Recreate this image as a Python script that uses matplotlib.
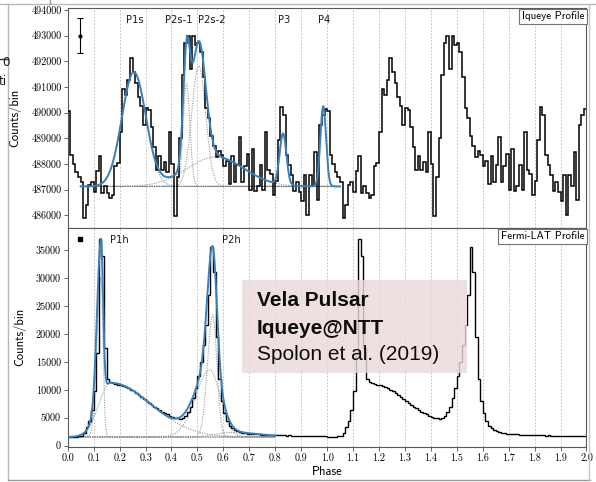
import numpy as np
import matplotlib
matplotlib.use("Agg")
import matplotlib.pyplot as plt
from matplotlib.lines import Line2D
from matplotlib.patches import Rectangle

# ---------------- data ----------------
bin_width = 0.01          # phase bin width of the profiles
n_cycles = 2              # profile shown twice (phase 0-2)

iqueye_counts = [
    490050, 488350, 488000, 487700, 487500, 487300, 485900, 486400, 487180, 487300,
    486920, 487740, 488290, 486860, 487140, 486860, 486660, 486790, 487900, 488030,
    489260, 490910, 490690, 491270, 492120, 491600, 491170, 490620, 490240, 489520,
    490170, 490100, 489450, 488670, 487760, 488290, 487760, 488090, 487700, 489260,
    488000, 485950, 487500, 489000, 491450, 492700, 492970, 491700, 492970, 492650,
    492700, 492350, 491400, 490170, 489800, 489100, 488700, 488250, 488500, 488350,
    487900, 488100, 487200, 488300, 487300, 487950, 489050, 487300, 487900, 488400,
    487000, 488600, 486950, 487150, 487950, 487000, 489250, 487750, 487600, 486800,
    487350, 488950, 490200, 489900, 488350, 487950, 487550, 486950, 487300, 486900,
    486550, 487550, 486000, 487550, 487150, 488450, 486600, 489500, 489900, 490150,
]

fermi_counts = [
    1600, 1580, 1620, 1600, 1650, 1750, 2300, 3300, 4500, 6300,
    9800, 16500, 37000, 34000, 17500, 12000, 11300, 11200, 11100, 10900,
    10800, 10600, 10450, 10250, 10000, 9700, 9400, 9050, 8700, 8350,
    7950, 7600, 7250, 6950, 6650, 6350, 6100, 5850, 5600, 5350,
    5150, 5000, 4900, 4850, 4950, 5300, 6000, 7000, 8500, 10300,
    12500, 15000, 18000, 21500, 27000, 35500, 31000, 19500, 12000, 8000,
    5800, 4400, 3600, 3100, 2800, 2550, 2400, 2300, 2200, 2150,
    2100, 2050, 2000, 2000, 1950, 1950, 1900, 1900, 1880, 1880,
    1850, 1850, 1830, 1830, 1800, 1820, 1800, 1790, 1780, 1780,
    1770, 1760, 1760, 1750, 1740, 1740, 1730, 1720, 1700, 1680,
]

# multi-gaussian fit (Iqueye)
iq_baseline = 487120
iq_comp_center = [0.255, 0.458, 0.505, 0.57, 0.83, 0.985]
iq_comp_sigma = [0.046, 0.013, 0.027, 0.11, 0.013, 0.011]
iq_comp_amp = [4440, 4000, 4700, 1150, 2000, 3130]
iq_fit_range = [0.05, 1.05]

# fit (Fermi-LAT), asymmetric gaussians
fermi_baseline = 1550
fermi_comp_center = [0.128, 0.165, 0.548, 0.559, 0.62]
fermi_comp_sig_left = [0.015, 0.045, 0.055, 0.020, 0.05]
fermi_comp_sig_right = [0.008, 0.155, 0.040, 0.016, 0.12]
fermi_comp_amp = [28550, 9700, 12000, 21800, 800]
fermi_fit_range = [0.0, 0.8]

iq_peak_labels = ["P1s", "P2s-1", "P2s-2", "P3", "P4"]
iq_peak_label_x = [0.26, 0.43, 0.557, 0.835, 0.99]
iq_peak_label_y = 493630
fermi_peak_labels = ["P1h", "P2h"]
fermi_peak_label_x = [0.163, 0.593]
fermi_peak_label_y = 36800

iq_err_point = [0.048, 493000, 690]
fermi_err_point = [0.048, 37000, 200]

x_ticks = [round(0.1 * i, 1) for i in range(21)]
x_tick_labels = [f"{t:.1f}" for t in x_ticks]
iq_yticks = [486000, 487000, 488000, 489000, 490000, 491000, 492000, 493000, 494000]
fermi_yticks = [0, 5000, 10000, 15000, 20000, 25000, 30000, 35000]

box_lines = ["Vela Pulsar", "Iqueye@NTT", "Spolon et al. (2019)"]

# ---------------- helpers ----------------
def agauss(x, c, sl, sr, a):
    s = np.where(x < c, sl, sr)
    return a * np.exp(-0.5 * ((x - c) / s) ** 2)

W, H = 596, 482
def fx(px):
    return px / W
def fy(py):
    return 1 - py / H

BLUE = "#3a80bc"
TICKFONT = "cmr10"
LABFONT = "cmss10"
plt.rcParams["axes.formatter.use_mathtext"] = True

fig = plt.figure(figsize=(W / 100, H / 100), dpi=100)
fig.patch.set_facecolor("white")

# screenshot frame remnants
for (x0, y0, x1, y1, c) in [(0, 3.5, 596, 3.5, "0.72"), (8, 3.5, 8, 480, "0.72"),
                            (8, 480, 590, 480, "0.6"), (589, 3.5, 589, 480, "0.78"),
                            (0, 59, 8, 59, "0.2"), (50, 0, 50, 3.5, "0.6")]:
    fig.add_artist(Line2D([fx(x0), fx(x1)], [fy(y0), fy(y1)], color=c, lw=1.0))
fig.text(fx(9.5), fy(63), "0", ha="right", va="center", fontsize=8.5, color="0.1")
fig.text(fx(7), fy(81), "ti", ha="right", va="center", fontsize=8.5, color="0.1")

left = fx(67.7)
width = (586.5 - 67.7) / W
ax1 = fig.add_axes([left, (H - 228) / H, width, 220 / H])
ax2 = fig.add_axes([left, (H - 446.5) / H, width, 218.5 / H])

edges = np.arange(len(iqueye_counts) * n_cycles + 1) * bin_width

# ---- top panel: Iqueye ----
iq_vals = np.tile(np.array(iqueye_counts, float), n_cycles)
ax1.stairs(iq_vals, edges, baseline=None, color="k", lw=1.1, zorder=3)
xf = np.linspace(iq_fit_range[0], iq_fit_range[1], 1200)
tot = np.full_like(xf, iq_baseline, dtype=float)
for c, s, a in zip(iq_comp_center, iq_comp_sigma, iq_comp_amp):
    comp = agauss(xf, c, s, s, a)
    tot += comp
    ax1.plot(xf, iq_baseline + comp, color="0.6", ls=(0, (1, 1.2)), lw=0.8, zorder=2)
ax1.plot(xf, np.full_like(xf, iq_baseline), color="0.45", ls=(0, (1, 1)), lw=0.8, zorder=2)
ax1.plot(xf, tot, color=BLUE, lw=1.4, zorder=4)
ax1.errorbar([iq_err_point[0]], [iq_err_point[1]], yerr=[iq_err_point[2]], fmt="o",
             ms=2, color="k", ecolor="k", elinewidth=0.8, capsize=2, capthick=0.8, zorder=5)
for lab, x in zip(iq_peak_labels, iq_peak_label_x):
    ax1.text(x, iq_peak_label_y, lab, ha="center", va="center", fontsize=7.2,
             family="DejaVu Sans", color="0.1")
ax1.text(0.996, 0.985, "Iqueye Profile", transform=ax1.transAxes, ha="right", va="top",
         fontsize=7.9, family=LABFONT,
         bbox=dict(boxstyle="square,pad=0.25", fc="white", ec="0.45", lw=0.8), zorder=6)
ax1.set_xlim(0, 2)
ax1.set_ylim(485500, 494080)
ax1.set_xticks(x_ticks)
ax1.set_yticks(iq_yticks)
ax1.set_yticklabels([str(v) for v in iq_yticks], family=TICKFONT, fontsize=7.3)
ax1.tick_params(axis="x", labelbottom=False, length=0)
ax1.tick_params(axis="y", direction="out", length=3, width=0.6, pad=1.5, color="0.3")
ax1.grid(axis="x", color="0.72", ls=(0, (2, 2)), lw=0.6)
ax1.set_ylabel("Counts/bin", family=LABFONT, fontsize=9)
ax1.yaxis.set_label_coords(-0.09, 0.5)

# ---- bottom panel: Fermi-LAT ----
fe_vals = np.tile(np.array(fermi_counts, float), n_cycles)
ax2.stairs(fe_vals, edges, baseline=None, color="k", lw=1.0, zorder=3)
xf2 = np.linspace(fermi_fit_range[0], fermi_fit_range[1], 1500)
tot2 = np.full_like(xf2, fermi_baseline, dtype=float)
for c, sl, sr, a in zip(fermi_comp_center, fermi_comp_sig_left, fermi_comp_sig_right, fermi_comp_amp):
    comp = agauss(xf2, c, sl, sr, a)
    tot2 += comp
    ax2.plot(xf2, fermi_baseline + comp, color="0.6", ls=(0, (1, 1.2)), lw=0.8, zorder=2)
ax2.plot(xf2, np.full_like(xf2, fermi_baseline), color="0.45", ls=(0, (1, 1)), lw=0.8, zorder=2)
ax2.plot(xf2, tot2, color=BLUE, lw=1.4, zorder=4)
ax2.errorbar([fermi_err_point[0]], [fermi_err_point[1]], yerr=[fermi_err_point[2]], fmt="s",
             ms=2.5, color="k", ecolor="k", elinewidth=0.8, capsize=1, zorder=5)
for lab, x in zip(fermi_peak_labels, fermi_peak_label_x):
    ax2.text(x, fermi_peak_label_y, lab, ha="left", va="center", fontsize=7.2,
             family="DejaVu Sans", color="0.1")
ax2.text(0.996, 0.985, "Fermi-LAT Profile", transform=ax2.transAxes, ha="right", va="top",
         fontsize=7.9, family=LABFONT,
         bbox=dict(boxstyle="square,pad=0.25", fc="white", ec="0.45", lw=0.8), zorder=6)
ax2.set_xlim(0, 2)
ax2.set_ylim(-150, 38930)
ax2.set_xticks(x_ticks)
ax2.set_xticklabels(x_tick_labels, family=TICKFONT, fontsize=7.3)
ax2.set_yticks(fermi_yticks)
ax2.set_yticklabels([str(v) for v in fermi_yticks], family=TICKFONT, fontsize=7.3)
ax2.tick_params(axis="both", direction="out", length=3, width=0.6, pad=2, color="0.3")
ax2.grid(axis="x", color="0.72", ls=(0, (2, 2)), lw=0.6)
ax2.set_ylabel("Counts/bin", family=LABFONT, fontsize=9)
ax2.yaxis.set_label_coords(-0.08, 0.5)
ax2.set_xlabel("Phase", family=LABFONT, fontsize=9, labelpad=2)

for ax in (ax1, ax2):
    for sp in ax.spines.values():
        sp.set_color("0.35")
        sp.set_linewidth(0.8)

# overlay text box
fig.add_artist(Rectangle((fx(242), fy(373)), fx(467) - fx(242), fy(280) - fy(373),
                         transform=fig.transFigure, facecolor=(0.92, 0.855, 0.855),
                         alpha=0.82, edgecolor="none", zorder=10))
fig.text(fx(257), fy(301), box_lines[0], fontsize=15, fontweight="bold",
         family="Liberation Sans", va="center", ha="left", color="0.05", zorder=11)
fig.text(fx(257), fy(328), box_lines[1], fontsize=15, fontweight="bold",
         family="Liberation Sans", va="center", ha="left", color="0.05", zorder=11)
fig.text(fx(257), fy(354), box_lines[2], fontsize=15,
         family="Liberation Sans", va="center", ha="left", color="0.05", zorder=11)

fig.savefig("out.png", dpi=100)
